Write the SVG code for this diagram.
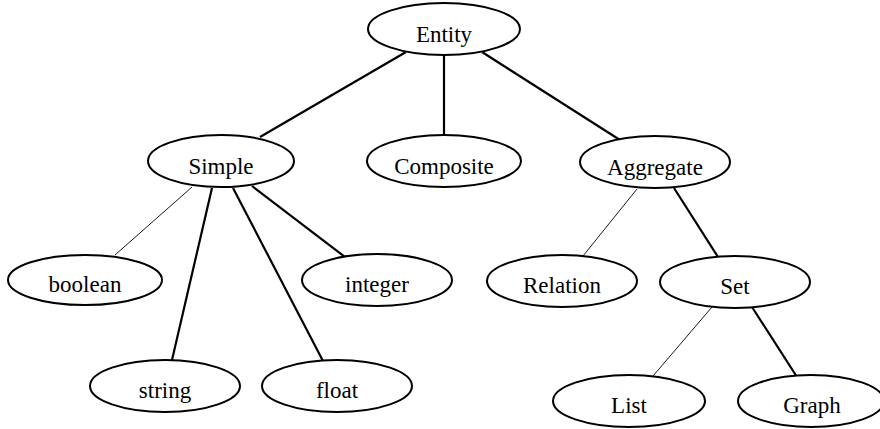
<svg xmlns="http://www.w3.org/2000/svg" width="880" height="429" viewBox="0 0 880 429">
  <style>
    .node ellipse { fill: #fff; stroke: #000; stroke-width: 2; }
    .node text { font-family: "Liberation Serif", "Times New Roman", serif; font-size: 23px; text-anchor: middle; fill: #000; }
    .edge { stroke: #000; stroke-width: 2.2; fill: none; }
    .edge.thin { stroke-width: 0.9; }
  </style>
  <rect width="880" height="429" fill="#fff"/>

  <!-- connectors -->
  <g id="connectors">
    <line class="edge" x1="406" y1="52" x2="260" y2="137"/>
    <line class="edge" x1="444" y1="55" x2="444" y2="135"/>
    <line class="edge" x1="482" y1="52" x2="620" y2="140"/>
    <line class="edge thin" x1="192" y1="187" x2="115" y2="255"/>
    <line class="edge" x1="212" y1="188" x2="172" y2="360"/>
    <line class="edge" x1="233" y1="188" x2="323" y2="361"/>
    <line class="edge" x1="252" y1="186" x2="345" y2="257"/>
    <line class="edge thin" x1="637" y1="189" x2="583" y2="256"/>
    <line class="edge" x1="674" y1="188" x2="718" y2="257"/>
    <line class="edge thin" x1="712" y1="307" x2="653" y2="376"/>
    <line class="edge" x1="752" y1="307" x2="797" y2="377"/>
  </g>

  <!-- nodes -->
  <g id="entity" class="node"><ellipse cx="444" cy="29" rx="76" ry="26"/><text x="444" y="42">Entity</text></g>
  <g id="simple" class="node"><ellipse cx="221" cy="161" rx="73" ry="26"/><text x="221" y="174">Simple</text></g>
  <g id="composite" class="node"><ellipse cx="444" cy="161" rx="77" ry="26"/><text x="444" y="174">Composite</text></g>
  <g id="aggregate" class="node"><ellipse cx="655" cy="162" rx="75" ry="26"/><text x="655" y="175">Aggregate</text></g>
  <g id="boolean" class="node"><ellipse cx="85" cy="280" rx="77" ry="25"/><text x="85" y="292">boolean</text></g>
  <g id="integer" class="node"><ellipse cx="377" cy="280" rx="75" ry="26"/><text x="377" y="292">integer</text></g>
  <g id="string" class="node"><ellipse cx="165" cy="386" rx="75" ry="26"/><text x="165" y="398">string</text></g>
  <g id="float" class="node"><ellipse cx="337" cy="386" rx="75" ry="26"/><text x="337" y="398">float</text></g>
  <g id="relation" class="node"><ellipse cx="562" cy="281" rx="75" ry="26"/><text x="562" y="293">Relation</text></g>
  <g id="set" class="node"><ellipse cx="735" cy="282" rx="75" ry="26"/><text x="735" y="294">Set</text></g>
  <g id="list" class="node"><ellipse cx="629" cy="401" rx="76" ry="26"/><text x="629" y="413">List</text></g>
  <g id="graph" class="node"><ellipse cx="811" cy="401" rx="73" ry="26"/><text x="812" y="413">Graph</text></g>
</svg>
